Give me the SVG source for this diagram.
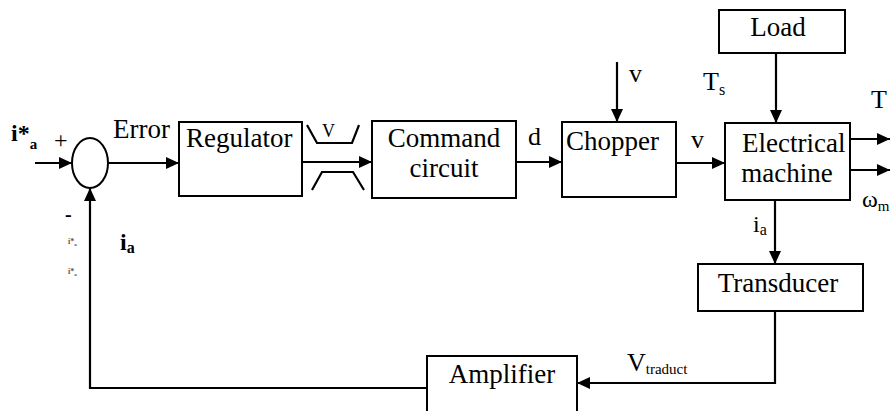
<svg xmlns="http://www.w3.org/2000/svg" width="891" height="411" viewBox="0 0 891 411">
<defs>
<marker id="ah" markerUnits="userSpaceOnUse" markerWidth="14" markerHeight="12" refX="13" refY="6" orient="auto">
<path d="M0,0 L13,6 L0,12 z" fill="#000"/>
</marker>
</defs>
<style>
.box{fill:#fff;stroke:#000;stroke-width:2}
.c{fill:none;stroke:#000;stroke-width:2.2}
.a{marker-end:url(#ah)}
text{font-family:"Liberation Serif","Times New Roman",serif;fill:#000}
.t{font-size:27px}
.m{text-anchor:middle}
.b{font-weight:bold}
.sm{font-size:8px;font-weight:bold;fill:#555}
</style>
<rect width="891" height="411" fill="#fff"/>

<g id="connectors">
<line class="c a" x1="35" y1="163" x2="72" y2="163"/>
<line class="c a" x1="108" y1="163" x2="179" y2="163"/>
<line class="c a" x1="302" y1="162" x2="372" y2="162"/>
<line class="c a" x1="516" y1="162" x2="562" y2="162"/>
<line class="c a" x1="617" y1="62" x2="617" y2="122"/>
<line class="c a" x1="676" y1="163" x2="725" y2="163"/>
<line class="c a" x1="776" y1="53" x2="776" y2="123"/>
<line class="c a" x1="850" y1="139" x2="890" y2="139"/>
<line class="c a" x1="850" y1="170" x2="890" y2="170"/>
<line class="c a" x1="775" y1="200" x2="775" y2="264"/>
<polyline class="c a" points="775,311 775,383 577,383"/>
<polyline class="c a" points="427,388 90,388 90,188"/>
<polyline class="c" points="307,125 317,143 352,143 359,125"/>
<polyline class="c" points="312,190 322,172 353,172 364,190"/>
</g>

<g id="sum">
<ellipse cx="90" cy="163" rx="18" ry="25" fill="#fff" stroke="#000" stroke-width="2"/>
</g>

<g id="regulator">
<rect class="box" x="179" y="122" width="123" height="74"/>
<text class="t" x="186" y="147">Regulator</text>
</g>

<g id="command">
<rect class="box" x="372" y="121" width="144" height="77"/>
<text class="t m" x="444" y="147">Command</text>
<text class="t m" x="444" y="177">circuit</text>
</g>

<g id="chopper">
<rect class="box" x="562" y="122" width="114" height="75"/>
<text class="t" x="566" y="150">Chopper</text>
</g>

<g id="machine">
<rect class="box" x="725" y="123" width="125" height="77"/>
<text class="t" x="742" y="152">Electrical</text>
<text class="t m" x="787" y="182">machine</text>
</g>

<g id="load">
<rect class="box" x="719" y="10" width="126" height="43"/>
<text class="t m" x="778" y="36">Load</text>
</g>

<g id="transducer">
<rect class="box" x="698" y="264" width="165" height="47"/>
<text class="t m" x="778" y="292">Transducer</text>
</g>

<g id="amplifier">
<rect class="box" x="427" y="356" width="150" height="60"/>
<text class="t m" x="502" y="383">Amplifier</text>
</g>

<g id="labels">
<text class="b" x="11" y="141" font-size="24">i*<tspan font-size="15" dy="8">a</tspan></text>
<text x="54" y="148" font-size="24">+</text>
<text class="t" x="113" y="138">Error</text>
<text x="322" y="137" font-size="18">V</text>
<text x="528" y="145" font-size="26">d</text>
<text x="629" y="82" font-size="26">v</text>
<text x="691" y="148" font-size="26">v</text>
<text x="703" y="90" font-size="26">T<tspan font-size="16" dy="5">s</tspan></text>
<text x="871" y="108" font-size="26">T</text>
<text x="862" y="207" font-size="24">ω<tspan font-size="15" dy="4">m</tspan></text>
<text x="753" y="232" font-size="24">i<tspan font-size="16" dy="3">a</tspan></text>
<text x="627" y="371" font-size="26">V<tspan font-size="15" dy="3">traduct</tspan></text>
<text class="b" x="65" y="221" font-size="20">-</text>
<text class="sm" x="68" y="244">i*<tspan font-size="5" dy="2">a</tspan></text>
<text class="sm" x="68" y="274">i*<tspan font-size="5" dy="2">a</tspan></text>
<text class="b" x="120" y="250" font-size="24">i<tspan font-size="16" dy="3">a</tspan></text>
</g>
</svg>
